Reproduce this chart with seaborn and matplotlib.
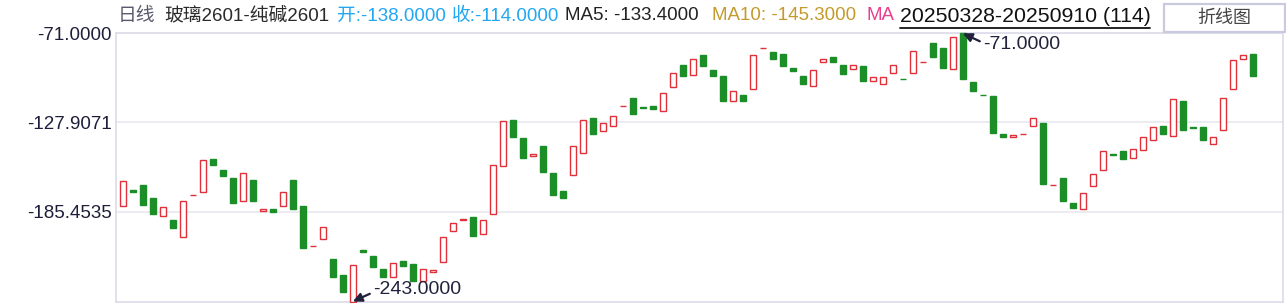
import matplotlib
matplotlib.use("Agg")
import matplotlib.pyplot as plt
import seaborn as sns
import numpy as np
from matplotlib.lines import Line2D
from matplotlib.patches import Rectangle

# ---------------- data ----------------
title_name = "玻璃2601-纯碱2601"
period_label = "日线"
date_range = "20250328-20250910"
n_bars = 114
header_open = -138.0
header_close = -114.0
ma5_value = -133.4
ma10_value = -145.3
button_label = "折线图"

opens = [
    -181.8, -171.2, -168.0, -176.9, -188.2, -191.0, -201.4, -174.7, -172.9, -151.3,
    -158.4, -164.1, -178.6, -165.4, -185.0, -183.9, -181.8, -165.4, -182.0, -207.3,
    -202.9, -215.9, -226.1, -243.0, -210.2, -214.0, -222.3, -227.6, -217.2, -219.1,
    -229.8, -224.0, -217.4, -197.6, -190.6, -189.1, -199.5, -186.7, -156.0, -126.4,
    -137.9, -149.4, -143.0, -160.3, -172.4, -161.8, -147.7, -125.1, -133.7, -130.5,
    -117.8, -112.4, -118.1, -117.5, -120.9, -105.5, -91.3, -97.9, -84.9, -94.5,
    -98.3, -114.5, -110.4, -106.8, -80.7, -83.0, -84.2, -93.2, -98.3, -104.9,
    -89.6, -86.1, -91.3, -94.0, -91.9, -101.7, -103.6, -96.6, -100.3, -96.6,
    -89.7, -77.2, -80.4, -94.0, -71.0, -102.1, -110.5, -111.1, -135.4, -137.5,
    -135.7, -130.5, -128.3, -168.3, -164.1, -180.1, -183.5, -168.8, -158.6, -148.2,
    -146.8, -150.9, -145.8, -139.4, -130.3, -137.1, -114.3, -131.4, -130.9, -142.0,
    -133.0, -106.8, -87.6, -84.2,
]
closes = [
    -165.6, -172.9, -181.2, -186.9, -182.2, -195.9, -178.4, -174.5, -152.2, -155.2,
    -162.6, -179.9, -160.5, -178.8, -183.5, -185.6, -172.7, -183.7, -208.9, -207.1,
    -195.0, -227.2, -236.8, -219.3, -211.2, -220.8, -227.2, -218.0, -220.2, -229.8,
    -222.3, -222.7, -201.4, -192.5, -190.4, -201.0, -190.5, -155.4, -127.3, -137.7,
    -151.1, -148.2, -160.1, -174.8, -176.7, -143.2, -126.6, -135.8, -128.5, -124.1,
    -117.6, -123.0, -119.2, -119.8, -109.4, -96.6, -98.1, -87.6, -91.7, -98.1,
    -114.1, -108.1, -114.1, -85.1, -80.5, -87.2, -91.7, -94.9, -103.8, -94.7,
    -87.6, -89.1, -96.8, -91.5, -101.9, -99.1, -99.1, -91.5, -100.5, -82.5,
    -89.5, -85.9, -93.0, -73.6, -100.0, -107.7, -110.7, -135.2, -137.7, -136.2,
    -135.5, -125.3, -167.7, -168.1, -178.6, -183.1, -173.3, -161.1, -146.4, -149.2,
    -151.7, -145.2, -137.5, -131.1, -135.8, -113.2, -133.2, -131.6, -139.6, -137.5,
    -112.6, -88.3, -85.1, -98.7,
]
ytick_values = [-71.0, -127.9071, -185.4535]

# ---------------- style ----------------
sns.set_theme(style="white")
plt.rcParams["font.family"] = ["Liberation Sans", "Noto Sans CJK SC"]

W, H = 1286, 303
fig = plt.figure(figsize=(W / 100, H / 100), dpi=100)
fig.patch.set_facecolor("white")

ax_left, ax_right, ax_top, ax_bot = 116, 1283, 33.3, 301.5
ax = fig.add_axes([ax_left / W, 1 - ax_bot / H, (ax_right - ax_left) / W, (ax_bot - ax_top) / H])
ax.set_facecolor("white")

RED = "#e0313b"
GREEN = "#1b8e28"

o = np.array(opens)
c = np.array(closes)
x = np.arange(len(o))
up = c >= o
lo = np.minimum(o, c)
hi = np.maximum(o, c)
bw = 0.6

ax.bar(x[up], (hi - lo)[up], bottom=lo[up], width=bw, facecolor="white",
       edgecolor=RED, linewidth=1.0, zorder=3, clip_on=False)
ax.bar(x[~up], (hi - lo)[~up], bottom=lo[~up], width=bw, facecolor=GREEN,
       edgecolor=GREEN, linewidth=1.0, zorder=3, clip_on=False)

ax.set_xlim((ax_left - 122.8) / 10, (ax_right - 122.8) / 10)
ax.set_ylim(-243, -71)

ax.set_yticks(ytick_values)
ax.set_yticklabels([f"{v:.4f}" for v in ytick_values])
ax.set_xticks([])
ax.tick_params(axis="y", length=0, pad=3, labelsize=13.5, labelcolor="#1e1e3a")
ax.grid(axis="y", color="#e7e7f0", linewidth=1.2, zorder=0)
ax.grid(axis="x", visible=False)
for s in ax.spines.values():
    s.set_visible(True)
    s.set_color("#dcdcea")
    s.set_linewidth(1.2)

# ---------------- min / max annotations ----------------
i_min = int(np.argmin(lo))
i_max = int(np.argmax(hi))
ARROW = "#22223c"
for idx, val, tail, txt_off in [
    (i_min, lo[i_min], (17, 7.7), (20, 11.7)),
    (i_max, hi[i_max], (17, -8), (20, -11)),
]:
    ax.annotate("", xy=(idx, val), xytext=tail, textcoords="offset pixels",
                arrowprops=dict(arrowstyle="-|>,head_length=0.45,head_width=0.22",
                                color=ARROW, lw=1.6, shrinkA=0, shrinkB=0),
                annotation_clip=False, zorder=5)
    ax.annotate(f"{val:.4f}", xy=(idx, val), xytext=txt_off, textcoords="offset pixels",
                ha="left", va="center", fontsize=14, color="#22223c",
                annotation_clip=False, zorder=5)

# ---------------- header ----------------
hy = 1 - 16 / H
def htext(px, s, color, size):
    return fig.text(px / W, hy, s, color=color, fontsize=size, ha="left", va="center")

htext(118, period_label, "#5a5a6e", 13.5)
htext(164.5, title_name, "#2a2a2a", 13.5)
htext(337, f"开:{header_open:.4f}", "#22a7f0", 13.5)
htext(452, f"收:{header_close:.4f}", "#22a7f0", 13.5)
htext(565, f"MA5: {ma5_value:.4f}", "#222222", 13.5)
htext(712.5, f"MA10: {ma10_value:.4f}", "#c49a2c", 13.5)
htext(866, "MA", "#e83e8c", 13.5)
dt = htext(899.6, f"{date_range} ({n_bars})", "#111111", 15.3)

fig.canvas.draw()
bb = dt.get_window_extent()
uy = 1 - 27.5 / H
fig.add_artist(Line2D([bb.x0 / W, bb.x1 / W], [uy, uy], transform=fig.transFigure,
                      color="#111111", lw=1.3))

# button
fig.add_artist(Rectangle((1164 / W, 1 - 31.5 / H), (1285 - 1164) / W, 27.5 / H,
                         transform=fig.transFigure, facecolor="white",
                         edgecolor="#cacade", lw=1.6))
fig.text(1224 / W, 1 - 18 / H, button_label, ha="center", va="center",
         fontsize=13, color="#444444")

fig.savefig("out.png", dpi=100)
